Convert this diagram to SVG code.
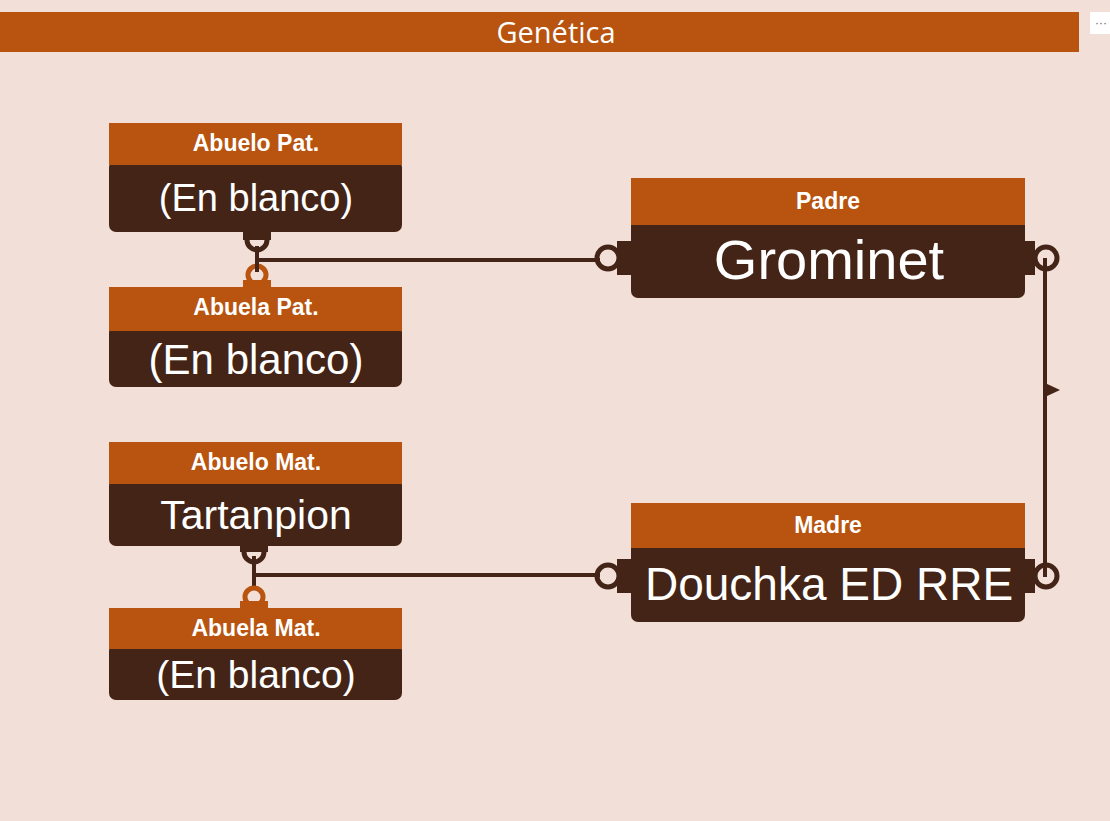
<svg xmlns="http://www.w3.org/2000/svg" width="1110" height="821" viewBox="0 0 1110 821">
<style>
.h{fill:#b8540f}.b{fill:#432416}
.ht{font-family:"Liberation Sans",Arial,sans-serif;font-weight:bold;font-size:23px;fill:#fff;text-anchor:middle}
.bt{font-family:"Liberation Sans",Arial,sans-serif;fill:#fff;text-anchor:middle}
.ln{stroke:#432416;stroke-width:4;fill:none}
.ro{stroke:#b8540f;stroke-width:5;fill:none}
.rd{stroke:#432416;stroke-width:5;fill:none}
</style>
<rect width="1110" height="821" fill="#f2dfd8"/>
<rect x="0" y="12" width="1079" height="40" fill="#b8540f"/>
<text x="556" y="43" font-family="Open Sans,'Liberation Sans',sans-serif" font-size="29" fill="#fff" text-anchor="middle">Genética</text>
<rect x="1090" y="12" width="20" height="22" fill="#fff"/>
<text x="1101" y="27" font-family="Liberation Sans,sans-serif" font-size="12" fill="#666" text-anchor="middle">···</text>
<g id="connectors">
<path class="ln" d="M257 260H600M254 575H600M1045 258V577"/>
<path d="M1045 383L1060 390L1045 397Z" fill="#432416"/>
<rect x="243" y="230" width="28" height="10" class="b"/>
<path class="rd" d="M247 240A10 10 0 0 0 267 240" /><path class="ln" d="M257 246V262"/>
<rect x="243" y="280" width="28" height="8" class="h"/>
<circle cx="257" cy="275" r="9" class="ro"/><path class="ln" d="M257 260V272"/>
<rect x="240" y="544" width="28" height="8" class="b"/>
<path class="rd" d="M244 552A10 10 0 0 0 264 552"/><path class="ln" d="M254 556V590"/>
<rect x="240" y="601" width="28" height="8" class="h"/>
<circle cx="254" cy="597" r="9" class="ro"/>
<rect x="617" y="241" width="16" height="34" class="b"/>
<circle cx="608" cy="258" r="11" class="rd"/>
<rect x="617" y="559" width="16" height="34" class="b"/>
<circle cx="608" cy="576" r="11" class="rd"/>
<rect x="1023" y="241" width="12" height="34" class="b"/>
<circle cx="1046" cy="258" r="11" class="rd"/>
<rect x="1023" y="559" width="12" height="34" class="b"/>
<circle cx="1046" cy="576" r="11" class="rd"/>
</g>
<g id="abuelo-pat"><rect x="109" y="160" width="293" height="72" rx="7" class="b"/><rect x="109" y="123" width="293" height="42" class="h"/><text x="256" y="151" class="ht">Abuelo Pat.</text><text x="256" y="211" class="bt" font-size="38">(En blanco)</text></g>
<g id="abuela-pat"><rect x="109" y="325" width="293" height="62" rx="7" class="b"/><rect x="109" y="287" width="293" height="44" class="h"/><text x="256" y="315" class="ht">Abuela Pat.</text><text x="256" y="374" class="bt" font-size="42">(En blanco)</text></g>
<g id="abuelo-mat"><rect x="109" y="478" width="293" height="68" rx="7" class="b"/><rect x="109" y="442" width="293" height="42" class="h"/><text x="256" y="470" class="ht">Abuelo Mat.</text><text x="256" y="529" class="bt" font-size="41">Tartanpion</text></g>
<g id="abuela-mat"><rect x="109" y="643" width="293" height="57" rx="7" class="b"/><rect x="109" y="608" width="293" height="41" class="h"/><text x="256" y="636" class="ht">Abuela Mat.</text><text x="256" y="688" class="bt" font-size="39">(En blanco)</text></g>
<g id="padre"><rect x="631" y="218" width="394" height="80" rx="7" class="b"/><rect x="631" y="178" width="394" height="47" class="h"/><text x="828" y="209" class="ht" font-size="26">Padre</text><text x="829" y="279" class="bt" font-size="56">Grominet</text></g>
<g id="madre"><rect x="631" y="541" width="394" height="81" rx="7" class="b"/><rect x="631" y="503" width="394" height="45" class="h"/><text x="828" y="533" class="ht" font-size="26">Madre</text><text x="829" y="600" class="bt" font-size="46">Douchka ED RRE</text></g>
</svg>
